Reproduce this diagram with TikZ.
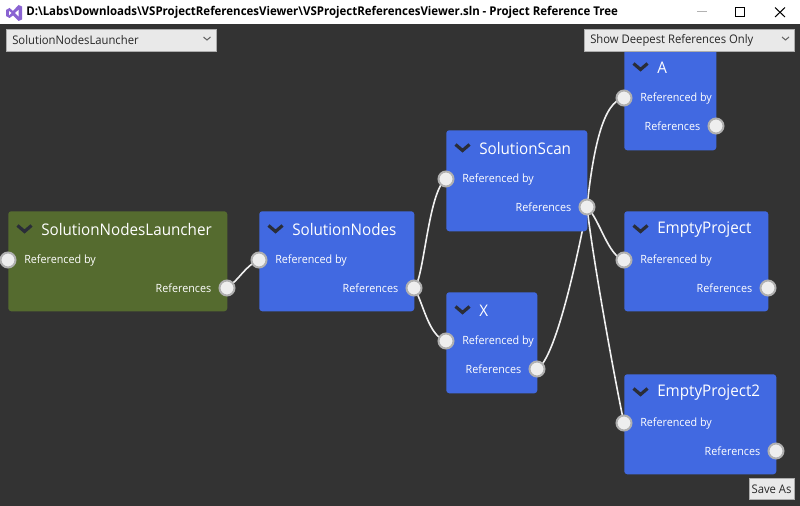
\documentclass[tikz,border=0pt]{standalone}
\usepackage{fontspec}
\setmainfont[FakeStretch=0.95]{Open Sans}
\pgfdeclarelayer{bg}
\pgfdeclarelayer{wires}
\pgfsetlayers{bg,wires,main}
\definecolor{winbg}{HTML}{333333}
\definecolor{cardblue}{HTML}{4169E1}
\definecolor{cardgreen}{HTML}{556B2F}
\definecolor{chev}{HTML}{2A2D38}
\definecolor{portfill}{HTML}{EEEEEE}
\definecolor{portline}{HTML}{B0B0B0}
\definecolor{combofill}{HTML}{E9E9E9}
\definecolor{comboline}{HTML}{ADADAD}
\definecolor{vspurple}{HTML}{8A63D2}
\tikzset{
  x=0.75pt,y=-0.75pt,
  cardbox/.style n args={3}{rectangle,rounded corners=2.25pt,fill=#3,draw=none,inner sep=0pt,anchor=north west,minimum width=#1*0.75pt,minimum height=#2*0.75pt},
  porthole/.style={circle,fill=portfill,draw=portline,line width=1.5pt,minimum size=15*0.75pt,inner sep=0pt},
  cardtitle/.style={anchor=west,text=white,inner sep=0pt,font=\fontsize{12}{14}\selectfont},
  portlabel/.style={text=white,inner sep=0pt,font=\fontsize{8.5}{10}\selectfont},
  wire/.style={draw=white!94!black,line width=1.2pt},
  chevron/.style={draw=chev,line width=2.4pt},
  combo/.style={rectangle,fill=combofill,draw=comboline,line width=0.75pt,inner sep=0pt,anchor=north west,minimum height=22*0.75pt},
  combotext/.style={anchor=west,inner sep=0pt,text=black!85,font=\fontsize{8.9}{10}\selectfont},
  combochev/.style={draw=black!60,line width=0.8pt},
}
% #1 name, #2 x, #3 y, #4 width, #5 height, #6 title, #7 colour
\newcommand\projcard[7]{%
  \node[cardbox={#4}{#5}{#7}] (#1) at (#2,#3) {};
  \draw[chevron] (#2+9.5,#3+14.5) -- (#2+16.5,#3+20.5) -- (#2+23.5,#3+14.5);
  \node[cardtitle] (#1title) at (#2+33,#3+18.3) {#6};
  \node[portlabel,anchor=west] (#1inlabel) at (#2+16,#3+49.5) {Referenced by};
  \node[portlabel,anchor=east] (#1outlabel) at (#2+#4-15.5,#3+77.3) {References};
  \node[porthole] (#1in) at (#2,#3+49) {};
  \node[porthole] (#1out) at (#2+#4,#3+77) {};
}
\begin{document}
\begin{tikzpicture}
\useasboundingbox (0,0) rectangle (800,506);
\begin{pgfonlayer}{bg}
  \fill[winbg] (0,0) rectangle (800,506);
  \fill[white] (0,0) rectangle (800,24);
\end{pgfonlayer}

% window title bar
\fill[vspurple] (6,10) -- (9.5,8) -- (13,11) -- (18.5,5) -- (22,6.5) -- (22,19.5) -- (18.5,21) -- (13,15.5) -- (9.5,18) -- (6,16) -- cycle;
\fill[white] (9,11) -- (11.5,13) -- (9,15.5) -- cycle;
\fill[white] (15,13) -- (18.5,10) -- (18.5,16.5) -- cycle;
\node[anchor=west,inner sep=0pt,text=black,font=\bfseries\fontsize{9.05}{10}\selectfont] (wintitle) at (26,12) {D:\textbackslash Labs\textbackslash Downloads\textbackslash VSProjectReferencesViewer\textbackslash VSProjectReferencesViewer.sln - Project Reference Tree};
\draw[black!30,line width=0.75pt] (697,12) -- (707,12);
\draw[black,line width=0.75pt] (735.5,7.5) rectangle (744.5,16.5);
\draw[black,line width=0.75pt] (775,7.5) -- (785,17) (785,7.5) -- (775,17);

% cards
\projcard{launcher}{8}{211}{219}{100}{SolutionNodesLauncher}{cardgreen}
\projcard{nodes}{259}{211}{155}{100}{SolutionNodes}{cardblue}
\projcard{scan}{446}{130}{141}{101}{SolutionScan}{cardblue}
\projcard{x}{446}{292}{91}{101}{X}{cardblue}
\projcard{a}{624}{49}{92}{101}{A}{cardblue}
\projcard{empty}{624}{211}{144}{100}{EmptyProject}{cardblue}
\projcard{emptytwo}{624}{374}{152}{100}{EmptyProject2}{cardblue}

% connectors
\begin{pgfonlayer}{wires}
  \draw[wire] (launcherout.center) .. controls +(13,-9) and +(-14,6) .. (nodesin.center);
  \draw[wire] (nodesout.center) .. controls +(10,-7) and +(-18,12) .. (scanin.center);
  \draw[wire] (nodesout.center) .. controls +(9,13) and +(-18,-5) .. (xin.center);
  \draw[wire] (scanout.center) .. controls +(6,-57) and +(-21,3) .. (ain.center);
  \draw[wire] (scanout.center) .. controls +(13,13) and +(-16,-4) .. (emptyin.center);
  \draw[wire] (scanout.center) .. controls +(6,53) and +(-9,-42) .. (emptytwoin.center);
  \draw[wire] (xout.center) .. controls +(18,-9) and +(-10,53) .. (scanout.center);
\end{pgfonlayer}

% combo boxes
\node[combo,minimum width=210*0.75pt] (combol) at (6,29) {};
\node[combotext] (combolt) at (12,40.5) {SolutionNodesLauncher};
\draw[combochev] (203.5,37) -- (207,40) -- (210.5,37);
\node[combo,minimum width=210*0.75pt] (combor) at (584,29) {};
\node[combotext] (combort) at (590,40.5) {Show Deepest References Only};
\draw[combochev] (782,37) -- (785.5,40) -- (789,37);
\node[combo,minimum width=45*0.75pt,minimum height=21*0.75pt] (saveas) at (749,478) {};
\node[combotext,anchor=center] (saveast) at (771.5,489.5) {Save As};
\end{tikzpicture}
\end{document}
